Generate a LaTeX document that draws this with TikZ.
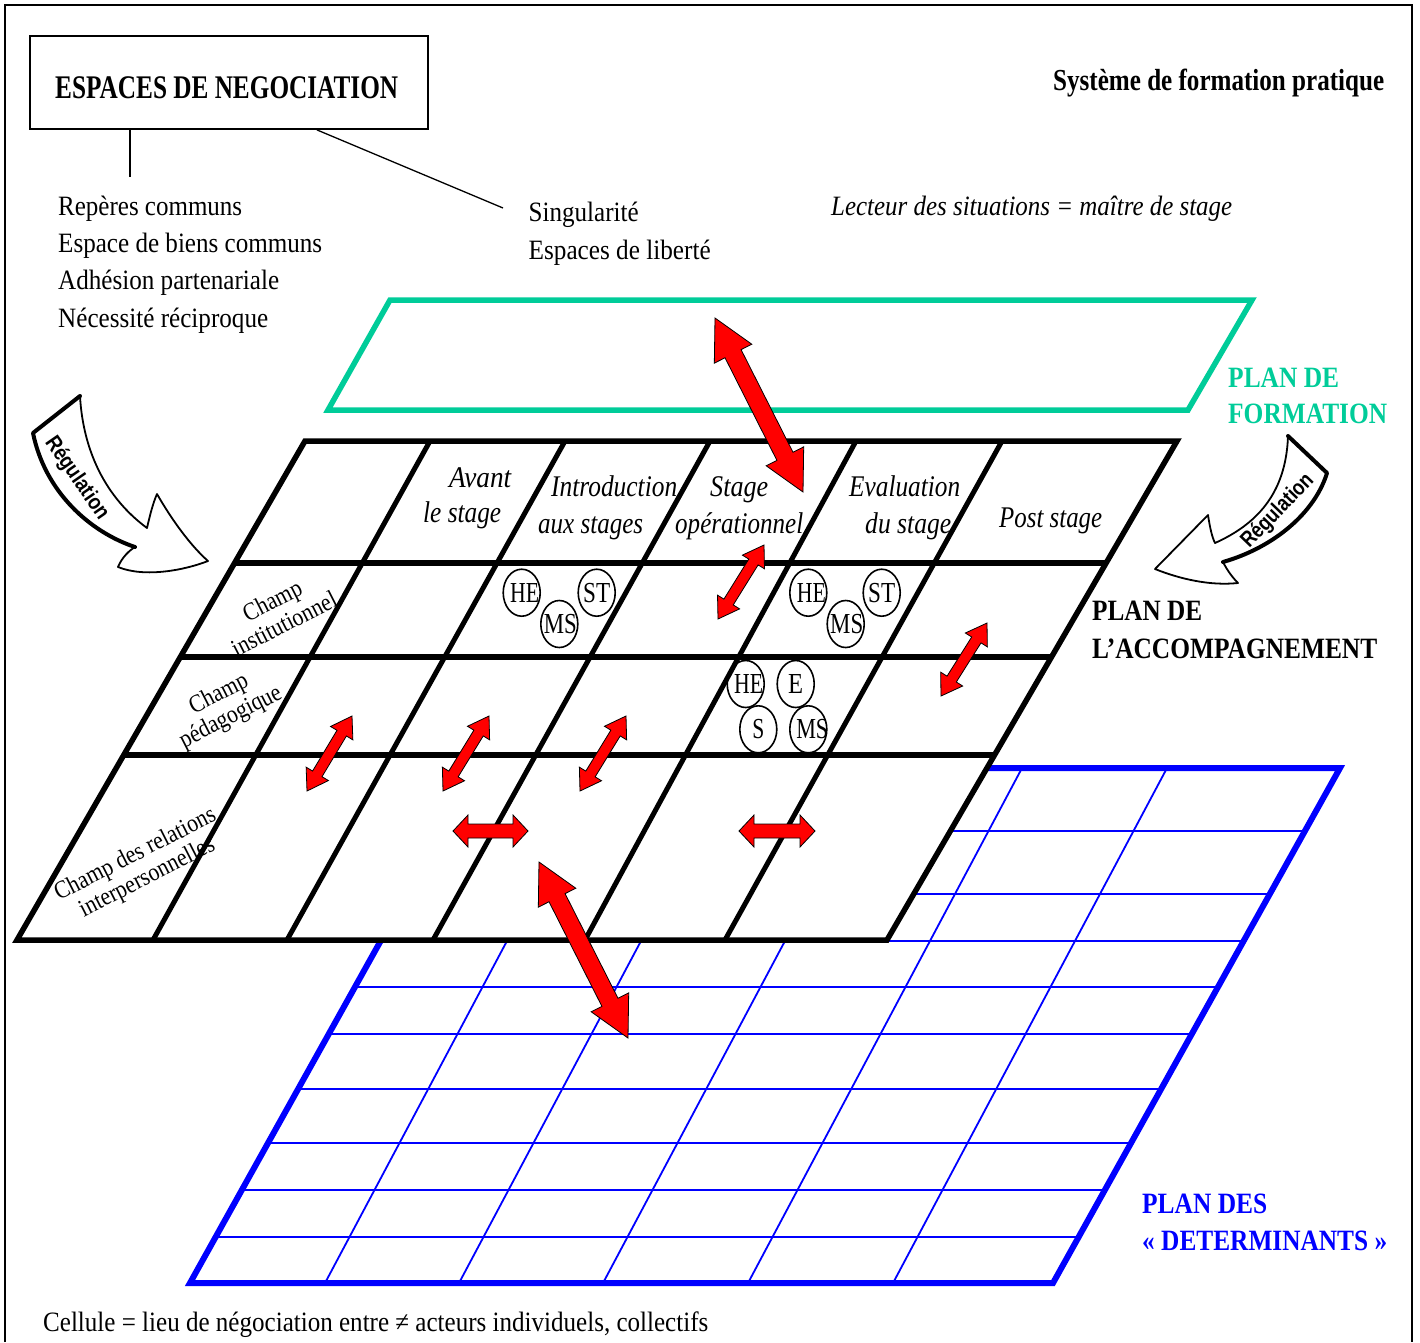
\documentclass[tikz,border=0pt]{standalone}
\usepackage{fontspec}
\setmainfont{Liberation Serif}
\newfontfamily\regfont{Liberation Sans}
\usetikzlibrary{calc,shapes.geometric}
\definecolor{formgreen}{RGB}{0,204,153}
\definecolor{detblue}{RGB}{0,0,255}
\definecolor{arrred}{RGB}{255,0,0}
% squeeze text to a given width, keeping its height
\newcommand\fw[2]{\resizebox{#1}{\height}{#2}}
\newcommand\sq[2]{\scalebox{#1}[1]{#2}}
% double-headed block arrow: from, to, shaft half width, head half width, head length
\newcommand\blockarrow[5]{%
  \draw[redarrow] (#1) -- ($(#1)!#5!(#2)!#4!90:(#2)$) -- ($(#1)!#5!(#2)!#3!90:(#2)$)
    -- ($(#2)!#5!(#1)!#3!-90:(#1)$) -- ($(#2)!#5!(#1)!#4!-90:(#1)$) -- (#2)
    -- ($(#2)!#5!(#1)!#4!90:(#1)$) -- ($(#2)!#5!(#1)!#3!90:(#1)$)
    -- ($(#1)!#5!(#2)!#3!-90:(#2)$) -- ($(#1)!#5!(#2)!#4!-90:(#2)$) -- cycle;}
\begin{document}
\begin{tikzpicture}[x=1pt,y=-1pt,
  txt/.style={anchor=base west, inner sep=0pt, font=\fontsize{28}{33}\selectfont},
  itx/.style={anchor=base west, inner sep=0pt, font=\fontsize{28}{33}\selectfont\itshape},
  hd/.style={anchor=base west, inner sep=0pt, font=\fontsize{30}{34}\selectfont\itshape},
  ttl/.style={anchor=base west, inner sep=0pt, font=\fontsize{29.5}{34}\selectfont\bfseries},
  bigttl/.style={anchor=base west, inner sep=0pt, font=\fontsize{33}{36}\selectfont\bfseries},
  rowlab/.style={align=center, inner sep=0pt, rotate=27, font=\fontsize{25}{26}\selectfont},
  actor/.style={draw, ellipse, line width=1.6pt, minimum width=37pt, minimum height=47pt, inner sep=0pt},
  actorlab/.style={inner sep=0pt, font=\fontsize{29}{29}\selectfont},
  redarrow/.style={fill=arrred, draw=black, line width=0.8pt, line join=miter},
  gridline/.style={line width=5.5pt},
  bluethin/.style={detblue, line width=1.8pt},
  bluethick/.style={detblue, line width=6pt, line join=miter},
  regarrow/.style={draw=black, fill=white, line width=1.8pt, line join=round},
  regedge/.style={line width=4pt, line cap=round, line join=round},
  regtxt/.style={anchor=base, inner sep=0pt, font=\regfont\bfseries\fontsize{22}{22}\selectfont},
  thinline/.style={line width=1.3pt}]
\useasboundingbox (0,0) rectangle (1420,1342);

% page frame
\draw[line width=2pt] (5,1342) -- (5,5) -- (1411.5,5) -- (1411.5,1342);

% ---------- plan des déterminants (blue grid) ----------
\coordinate (B0) at (477,768);
\coordinate (B1) at (190,1283);
\coordinate (B2) at (1053,1283);
\coordinate (B3) at (1340,768);
\foreach \yy in {831,894,941,987,1034,1089,1143,1190,1237}
  \draw[bluethin] ($(B1)!{(1283-\yy)/515}!(B0)$) -- ($(B2)!{(1283-\yy)/515}!(B3)$);
\foreach \b/\t in {325/599,459/733,603/877,748/1022,893/1167}
  \draw[bluethin] (\b,1283) -- (\t,768);
\draw[bluethick] (B0) -- (B3) -- (B2) -- (B1) -- cycle;

% ---------- plan de l'accompagnement (black grid) ----------
\coordinate (K0) at (305,441);
\coordinate (K1) at (17,940);
\coordinate (K2) at (887,940);
\coordinate (K3) at (1177,441);
\fill[white] (K0) -- (K3) -- (K2) -- (K1) -- cycle;
\foreach \yy in {563,657,755}
  \draw[gridline] ($(K1)!{(940-\yy)/499}!(K0)$) -- ($(K2)!{(940-\yy)/499}!(K3)$);
\foreach \t/\b in {430/153,565/287,710/433,856/585,1002/725}
  \draw[gridline, line width=5pt] (\t,441) -- (\b,940);
\draw[gridline, line join=miter] (K0) -- (K3) -- (K2) -- (K1) -- cycle;

% ---------- plan de formation (green) ----------
\draw[formgreen, line width=5.5pt, line join=miter] (390,300) -- (1252,300) -- (1188,410) -- (328,410) -- cycle;

% ---------- title box and its two branches ----------
\node[draw, line width=1.8pt, minimum width=398pt, minimum height=93pt, inner sep=0pt] (esp) at (229,82.5) {};
\node[bigttl] (espt) at (55,98) {\fw{343pt}{ESPACES DE NEGOCIATION}};
\coordinate (lstop) at (130,177);
\coordinate (singtop) at (503,208);
\draw[thinline] (esp.south -| lstop) -- (lstop);
\draw[thinline] ($(esp.south west)!0.72!(esp.south east)$) -- (singtop);

\node[txt] (l1) at (58,215) {\fw{184pt}{Repères communs}};
\node[txt] (l2) at (58,252) {\fw{264pt}{Espace de biens communs}};
\node[txt] (l3) at (58,289.5) {\fw{221pt}{Adhésion partenariale}};
\node[txt] (l4) at (58,327) {\fw{210pt}{Nécessité réciproque}};
\node[txt] (s1) at (528.5,221.5) {\fw{110pt}{Singularité}};
\node[txt] (s2) at (528.5,259.5) {\fw{182pt}{Espaces de liberté}};
\node[itx] (lect) at (831,215) {\fw{401pt}{Lecteur des situations = maître de stage}};
\node[ttl, font=\fontsize{30.5}{34}\selectfont\bfseries] (sys) at (1053,90) {\fw{331pt}{Système de formation pratique}};

% plane names
\node[ttl, text=formgreen] (pf1) at (1228,387) {\fw{111pt}{PLAN DE}};
\node[ttl, text=formgreen] (pf2) at (1228,423) {\fw{159pt}{FORMATION}};
\node[ttl] (pa1) at (1092,620) {\fw{110pt}{PLAN DE}};
\node[ttl] (pa2) at (1092,658) {\fw{285pt}{L’ACCOMPAGNEMENT}};
\node[ttl, text=detblue] (pd1) at (1142,1213) {\fw{125pt}{PLAN DES}};
\node[ttl, text=detblue] (pd2) at (1142,1250) {\fw{245pt}{« DETERMINANTS »}};
\node[txt] (cell) at (43,1331) {\fw{665pt}{Cellule = lieu de négociation entre ≠ acteurs individuels, collectifs}};

% column headings
\node[hd] (av1) at (449,487) {\fw{62pt}{Avant}};
\node[hd] (av2) at (423,522) {\fw{78pt}{le stage}};
\node[hd] (in1) at (551,496.5) {\fw{126pt}{Introduction}};
\node[hd] (in2) at (538,533.5) {\fw{105pt}{aux stages}};
\node[hd] (so1) at (710,496.5) {\fw{58pt}{Stage}};
\node[hd] (so2) at (675,533.5) {\fw{128pt}{opérationnel}};
\node[hd] (ev1) at (849,496.5) {\fw{111pt}{Evaluation}};
\node[hd] (ev2) at (865,533.5) {\fw{86pt}{du stage}};
\node[hd] (ps) at (999,527) {\fw{103pt}{Post stage}};

% row headings
\node[rowlab] (ci) at (278,612) {\sq{0.87}{Champ}\\\sq{0.87}{institutionnel}};
\node[rowlab] (cp) at (225,706) {\sq{0.87}{Champ}\\\sq{0.87}{pédagogique}};
\node[rowlab] (cr) at (141.5,866.5) {\sq{0.87}{Champ des relations}\\\sq{0.87}{interpersonnelles}};

% actors
\node[actor] (he1) at (521.7,592.7) {};
\node[actor] (ms1) at (559.3,624) {};
\node[actor] (st1) at (596.7,592.7) {};
\node[actor] (he2) at (808.3,592.7) {};
\node[actor] (ms2) at (845.7,624) {};
\node[actor] (st2) at (881.7,592.7) {};
\node[actor] (he3) at (745.7,684) {};
\node[actor] (e3) at (795.7,684) {};
\node[actor] (s3) at (758.3,729.3) {};
\node[actor] (ms3) at (808.3,729.3) {};
\node[actorlab] at ([xshift=3pt]he1) {\fw{29pt}{HE}};
\node[actorlab] at ([xshift=1pt]ms1) {\fw{33pt}{MS}};
\node[actorlab] at (st1) {\fw{27pt}{ST}};
\node[actorlab] at ([xshift=3pt]he2) {\fw{29pt}{HE}};
\node[actorlab] at ([xshift=1pt]ms2) {\fw{33pt}{MS}};
\node[actorlab] at (st2) {\fw{27pt}{ST}};
\node[actorlab] at ([xshift=3pt]he3) {\fw{29pt}{HE}};
\node[actorlab] at (e3) {\fw{15pt}{E}};
\node[actorlab] at (s3) {\fw{12pt}{S}};
\node[actorlab] at ([xshift=4pt]ms3) {\fw{32pt}{MS}};

% regulation arrows
\draw[regarrow] (33,433) -- (80,396) .. controls (83,450) and (105,497) .. (147,528)
  .. controls (150,515) and (153,503) .. (157,494)
  .. controls (172,520) and (190,545) .. (208,561)
  .. controls (185,570) and (145,578) .. (118,567)
  .. controls (122,557) and (130,550) .. (135,547)
  .. controls (90,532) and (45,492) .. (33,433) -- cycle;
\draw[regedge] (80,396) -- (33,433) .. controls (45,492) and (90,532) .. (135,547);
\node[regtxt, rotate=-55.3] (reg1) at (72,481.5) {\fw{96pt}{Régulation}};

\draw[regarrow] (1288,436) -- (1327,473) .. controls (1315,512) and (1275,547) .. (1223,562)
  .. controls (1228,572) and (1234,579) .. (1238,583)
  .. controls (1210,586) and (1180,579) .. (1155,569)
  -- (1208,515)
  .. controls (1210,528) and (1212,537) .. (1215,543)
  .. controls (1255,525) and (1286,495) .. (1288,436) -- cycle;
\draw[regedge] (1288,436) -- (1327,473) .. controls (1315,512) and (1275,547) .. (1223,562);
\node[regtxt, rotate=46] (reg2) at (1282,515) {\fw{94pt}{Régulation}};

% red exchange arrows
\coordinate (fA) at (715,318);  \coordinate (fB) at (803,492);
\coordinate (dA) at (539,862);  \coordinate (dB) at (628,1038);
\coordinate (a1) at (764,545);  \coordinate (a2) at (718,619);
\coordinate (b1) at (987,623);  \coordinate (b2) at (941,696);
\coordinate (c1) at (352,716);  \coordinate (c2) at (307,791);
\coordinate (d1) at (489,716);  \coordinate (d2) at (443,791);
\coordinate (e1) at (626,716);  \coordinate (e2) at (580,791);
\coordinate (h1) at (453,831);  \coordinate (h2) at (528,831);
\coordinate (g1) at (739,831);  \coordinate (g2) at (815,831);
\blockarrow{fA}{fB}{9pt}{21pt}{40pt}
\blockarrow{dA}{dB}{9pt}{21pt}{40pt}
\blockarrow{a1}{a2}{5.5pt}{13pt}{20pt}
\blockarrow{b1}{b2}{5.5pt}{13pt}{20pt}
\blockarrow{c1}{c2}{5.5pt}{13pt}{20pt}
\blockarrow{d1}{d2}{5.5pt}{13pt}{20pt}
\blockarrow{e1}{e2}{5.5pt}{13pt}{20pt}
\blockarrow{h1}{h2}{7pt}{16pt}{15pt}
\blockarrow{g1}{g2}{7pt}{16pt}{15pt}
\end{tikzpicture}
\end{document}
